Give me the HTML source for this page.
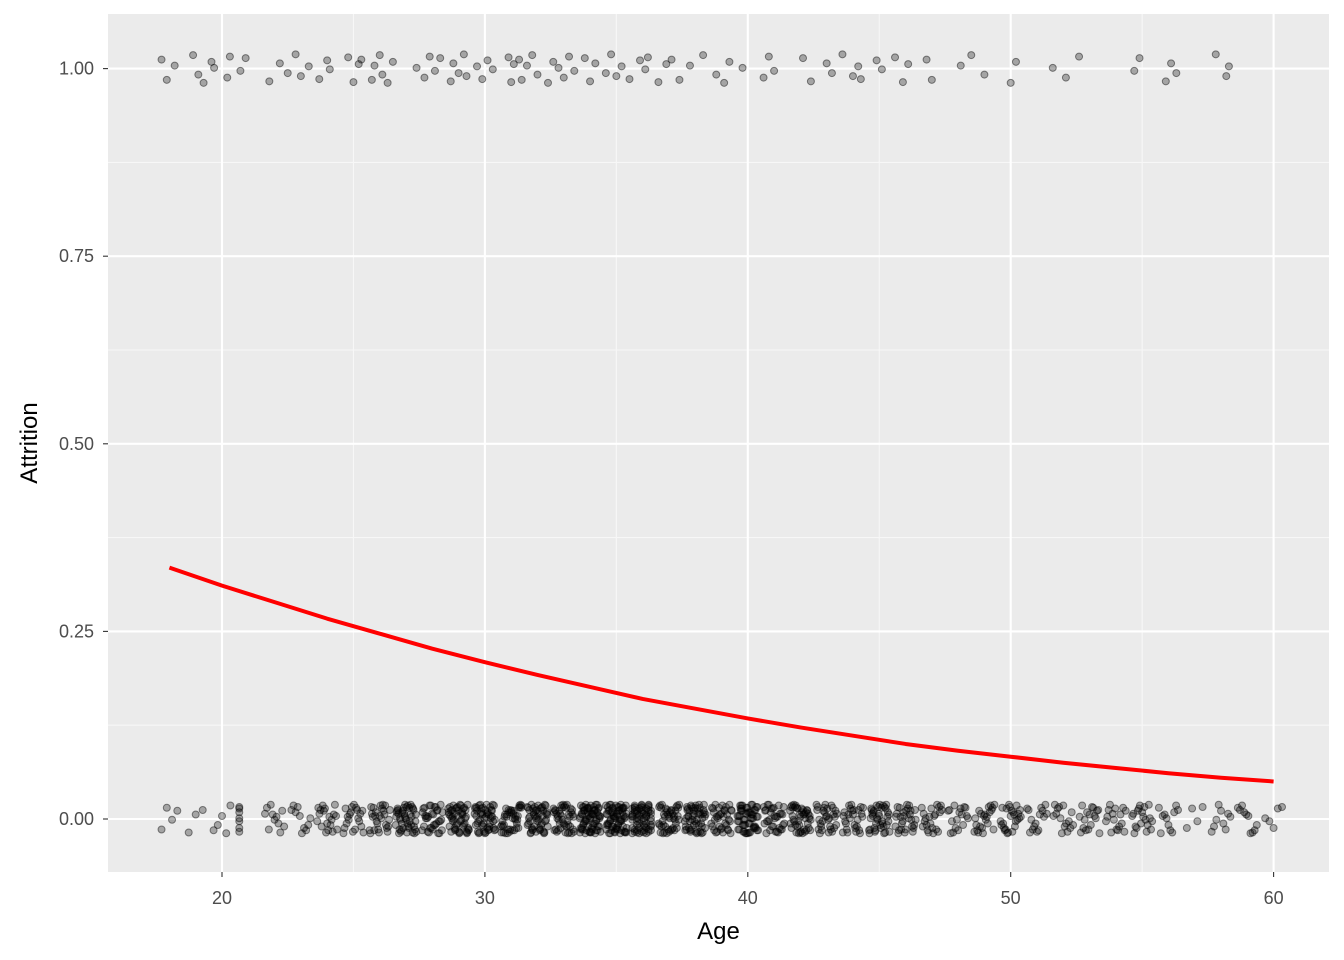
<!DOCTYPE html>
<html><head><meta charset="utf-8"><style>
html,body{margin:0;padding:0;background:#fff;}
svg{display:block;font-family:"Liberation Sans",Arial,sans-serif;}
</style></head><body>
<svg id="chart" width="1344" height="960"></svg>
<script>
// ---- data ----
const xTicks = [20, 30, 40, 50, 60];
const xMinor = [25, 35, 45, 55];
const yTicks = [0, 0.25, 0.5, 0.75, 1];
const yTickLabels = ["0.00", "0.25", "0.50", "0.75", "1.00"];
const yMinor = [0.125, 0.375, 0.625, 0.875];
// fitted probability curve
const curveAges = [18, 20, 22, 24, 26, 28, 30, 32, 34, 36, 38, 40, 42, 44, 46, 48, 50, 52, 54, 56, 58, 60];
const curveProb = [0.335, 0.311, 0.289, 0.267, 0.247, 0.227, 0.209, 0.192, 0.176, 0.160, 0.147, 0.134, 0.122, 0.111, 0.100, 0.091, 0.083, 0.075, 0.068, 0.061, 0.055, 0.050];
// Attrition = 1 employees (ages, jittered)
const leaverAges = [17.7,17.9,18.2,18.9,19.1,19.3,19.6,19.7,20.2,20.3,20.7,20.9,21.8,22.2,22.5,22.8,23.0,23.3,23.7,24.0,24.1,24.8,25.0,25.2,25.3,25.7,25.8,26.0,26.1,26.3,26.5,27.4,27.7,27.9,28.1,28.3,28.7,28.8,29.0,29.2,29.3,29.7,29.9,30.1,30.3,30.9,31.0,31.1,31.3,31.4,31.6,31.8,32.0,32.4,32.6,32.8,33.0,33.2,33.4,33.8,34.0,34.2,34.6,34.8,35.0,35.2,35.5,35.9,36.1,36.2,36.6,36.9,37.1,37.4,37.8,38.3,38.8,39.1,39.3,39.8,40.6,40.8,41.0,42.1,42.4,43.0,43.2,43.6,44.0,44.2,44.3,44.9,45.1,45.6,45.9,46.1,46.8,47.0,48.1,48.5,49.0,50.0,50.2,51.6,52.1,52.6,54.7,54.9,55.9,56.1,56.3,57.8,58.2,58.3];
// Attrition = 0 employees: count per integer age
const stayerAgeValues = [18,19,20,21,22,23,24,25,26,27,28,29,30,31,32,33,34,35,36,37,38,39,40,41,42,43,44,45,46,47,48,49,50,51,52,53,54,55,56,57,58,59,60];
const stayerCounts = [4,3,5,7,11,10,19,20,27,45,34,50,51,41,50,44,68,68,63,44,52,36,55,34,44,31,27,39,29,22,17,22,25,15,15,17,16,19,11,4,9,10,5];
const jitterY = [0.012,-0.015,0.004,0.018,-0.008,-0.019,0.009,0.001,-0.012,0.016,-0.003,0.014,-0.017,0.007,-0.006,0.019,-0.01,0.003,-0.014,0.011,-0.001,0.015,-0.018,0.006];

// ---- scales ----
const PL = 108, PR = 1329, PT = 14, PB = 872;
const x = a => 222 + (a - 20) * 26.29;
const y = v => 819 - v * 750.4;
const NS = "http://www.w3.org/2000/svg";
const svg = document.getElementById("chart");
function mk(tag, attrs, parent) {
  const e = document.createElementNS(NS, tag);
  for (const k in attrs) e.setAttribute(k, attrs[k]);
  (parent || svg).appendChild(e);
  return e;
}
const bg = mk("rect", {x: PL, y: PT, width: PR - PL, height: PB - PT, fill: "#ebebeb"});



const grid = mk("g", {});


xMinor.forEach(v => mk("line", {x1: x(v), x2: x(v), y1: PT, y2: PB, stroke: "#f7f7f7", "stroke-width": 1.1}, grid));
yMinor.forEach(v => mk("line", {x1: PL, x2: PR, y1: y(v), y2: y(v), stroke: "#f7f7f7", "stroke-width": 1.1}, grid));
xTicks.forEach(v => mk("line", {x1: x(v), x2: x(v), y1: PT, y2: PB, stroke: "#fff", "stroke-width": 2.1}, grid));
yTicks.forEach(v => mk("line", {x1: PL, x2: PR, y1: y(v), y2: y(v), stroke: "#fff", "stroke-width": 2.1}, grid));

// points
const pts = mk("g", {fill: "rgba(0,0,0,0.3)", stroke: "rgba(0,0,0,0.45)", "stroke-width": 1});


let j = 0;
leaverAges.forEach(a => {
  const c = mk("circle", {cx: x(a), cy: y(1 + jitterY[j++ % jitterY.length]), r: 3.5}, pts);
  
  
});
stayerAgeValues.forEach((age, i) => {
  const n = stayerCounts[i];
  for (let k = 0; k < n; k++) {
    const off = ((k * 7) % n + 0.5) / n - 0.5;
    const c = mk("circle", {cx: x(age + off * 0.8), cy: y(jitterY[j++ % jitterY.length]), r: 3.5}, pts);
    
    
  }
});

// curve
const curve = mk("polyline", {points: curveAges.map((a, i) => x(a) + "," + y(curveProb[i])).join(" "), fill: "none", stroke: "#ff0000", "stroke-width": 4, "stroke-linejoin": "round"});



// axes
const xa = mk("g", {});


xTicks.forEach(v => {
  mk("line", {x1: x(v), x2: x(v), y1: PB, y2: PB + 5, stroke: "#333", "stroke-width": 1.1}, xa);
  const t = mk("text", {x: x(v), y: PB + 32, "text-anchor": "middle", "font-size": 18, fill: "#4d4d4d"}, xa);
  t.textContent = v;
  
  
});
const ya = mk("g", {});


yTicks.forEach((v, i) => {
  mk("line", {x1: PL - 5, x2: PL, y1: y(v), y2: y(v), stroke: "#333", "stroke-width": 1.1}, ya);
  const t = mk("text", {x: PL - 14, y: y(v) + 6, "text-anchor": "end", "font-size": 18, fill: "#4d4d4d"}, ya);
  t.textContent = yTickLabels[i];
  
  
});
const xt = mk("text", {x: (PL + PR) / 2, y: 939, "text-anchor": "middle", "font-size": 24, fill: "#000"});
xt.textContent = "Age";


const yt = mk("text", {x: 0, y: 0, "text-anchor": "middle", "font-size": 24, fill: "#000", transform: "translate(37," + ((PT + PB) / 2) + ") rotate(-90)"});
yt.textContent = "Attrition";


</script>
</body></html>
